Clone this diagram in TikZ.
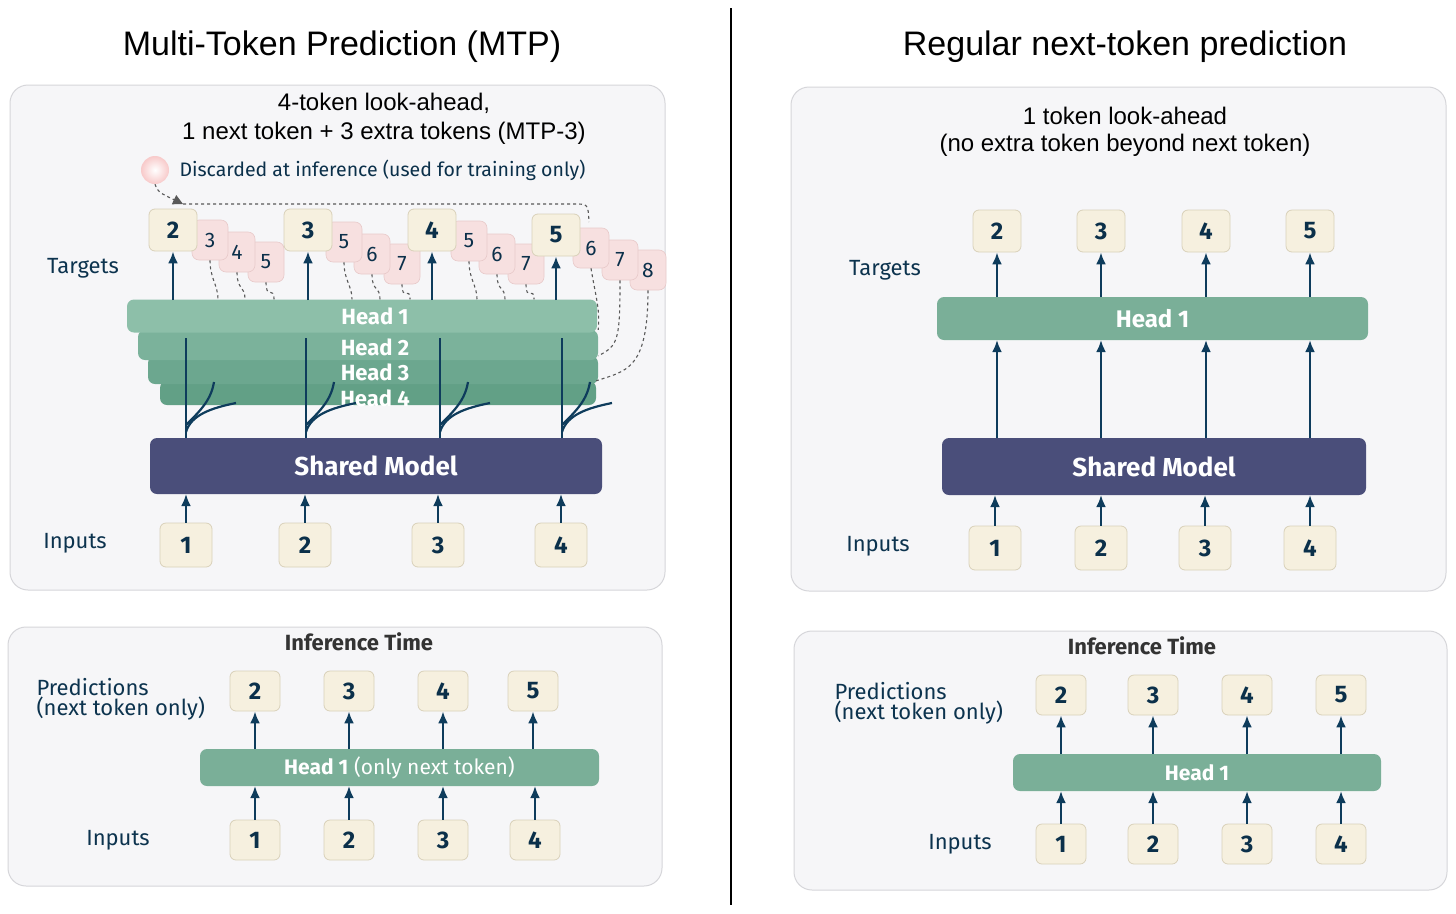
\documentclass[tikz,border=0pt]{standalone}
\usepackage{fontspec}
\setmainfont{Fira Sans}
\newfontfamily\titlefont{Liberation Sans}
\usetikzlibrary{arrows.meta}
\definecolor{arr}{HTML}{0E3C5C}
\definecolor{panel}{HTML}{F6F6F8}
\definecolor{panelb}{HTML}{D6D6DA}
\definecolor{cream}{HTML}{F6F0DF}
\definecolor{creamb}{HTML}{D9D1BA}
\definecolor{pinkf}{HTML}{F7E0E0}
\definecolor{pinkb}{HTML}{E8CACA}
\definecolor{hA}{HTML}{8DBFA9}
\definecolor{hB}{HTML}{7BB29B}
\definecolor{hC}{HTML}{6CA78F}
\definecolor{hD}{HTML}{62A086}
\definecolor{hone}{HTML}{7AAF98}
\definecolor{model}{HTML}{4A4E7A}
\begin{document}
\begin{tikzpicture}[x=1pt,y=-1pt,
  panelst/.style={draw=panelb,fill=panel,rounded corners=18pt,line width=1pt},
  tok/.style={draw=creamb,fill=cream,rounded corners=6pt,minimum width=48pt,minimum height=42pt,font=\fontsize{24}{24}\selectfont\bfseries,text=arr!80!black,line width=0.8pt},
  ptok/.style={draw=pinkb,fill=pinkf,rounded corners=7pt,minimum width=36pt,minimum height=40pt,font=\fontsize{21}{21}\selectfont,text=arr!80!black,line width=0.6pt},
  lab/.style={font=\fontsize{22}{22}\selectfont,text=arr!85!black},
  big/.style={font=\titlefont\fontsize{34}{40}\selectfont},
  sub/.style={font=\titlefont\fontsize{24}{28}\selectfont},
  bar/.style={rounded corners=7pt,inner sep=0pt},
  ar/.style={-{Latex[length=12pt,width=10pt]},arr,line width=2.6pt},
  dsh/.style={dashed,gray!70!black,line width=1.1pt}]
\useasboundingbox (0,0) rectangle (1456,913);
\fill[white] (0,0) rectangle (1456,913);
\node[big] (t1) at (342,47) {Multi-Token Prediction (MTP)};
\node[big] (t2) at (1125,47) {Regular next-token prediction};
\draw[line width=1.3pt] (731,8) -- (731,905);
% ---------- left top panel
\node[panelst,minimum width=655pt,minimum height=505pt] (P1) at (337.5,337.5) {};
\node[sub] (l1) at (384,103) {4-token look-ahead,};
\node[sub] (l2) at (384,133) {1 next token + 3 extra tokens (MTP-3)};
\shade[inner color=white,outer color=pinkf!90!red] (155,170) circle (14);
\node[circle,minimum size=28pt,inner sep=0pt] (dc) at (155,170) {};
\node[anchor=west,font=\fontsize{19.5}{20}\selectfont,text=arr!80!black] (dl) at (176,170) {Discarded at inference (used for training only)};
\coordinate (da) at (183,204);
\draw[dsh,-{Triangle[length=10pt,width=10pt]}] (dc.south) .. controls (158,192) .. (da);
\draw[dsh] (da) -- (575,204) .. controls (588,204) .. (589,222);
\node[lab] (tg1) at (83,268) {Targets};
\node[lab] (in1) at (75,543) {Inputs};
% pink tokens (drawn back to front)
\foreach \n/\x/\y/\t in {c/648/270/8,b/620/260/7,a/591/248/6, f/526/264/7,e/497/254/6,d/469/241/5, i/402/264/7,h/372/254/6,g/344/242/5, l/266/262/5,k/237/252/4,j/210/240/3}
  \node[ptok] (p\n) at (\x,\y) {\t};
% target tokens
\node[tok] (T1) at (173,230) {2};
\node[tok] (T2) at (308,230) {3};
\node[tok] (T3) at (432,230) {4};
\node[tok] (T4) at (556,235) {5};
% heads
\node[bar,fill=hD,minimum width=436pt,minimum height=24pt] (H4) at (378,393) {};
\node[bar,fill=hC,minimum width=450pt,minimum height=28pt] (H3) at (373,370) {};
\node[bar,fill=hB,minimum width=460pt,minimum height=30pt] (H2) at (368,345) {};
\node[bar,fill=hA,minimum width=470pt,minimum height=33pt] (H1) at (362,316) {};
\foreach \h/\y in {1/316,2/347,3/372,4/398}
  \node[font=\fontsize{22}{22}\selectfont\bfseries,text=white] (hl\h) at (375,\y) {Head \h};
% dashed curves pink -> heads
\foreach \n/\dx in {j/70,k/105,l/140,g/310,h/340,i/375,d/440,e/470,f/500}
  \draw[dsh] (p\n.south) .. controls ++(0,18) and ++(0,-14) .. ([xshift=8pt]p\n.south |- H1.north);
\draw[dsh] (pa.south) .. controls ++(5,30) and ++(2,-20) .. (H2.north east);
\draw[dsh] (pb.south) .. controls ++(0,60) and ++(20,-10) .. (H3.north east);
\draw[dsh] (pc.south) .. controls ++(0,80) and ++(30,-10) .. (H4.north east);
\draw[dsh] (pc.south) ++(-10,0) coordinate (pc2);
% shared model
\node[bar,fill=model,minimum width=452pt,minimum height=56pt,font=\fontsize{26}{26}\selectfont\bfseries,text=white] (SM1) at (376,466) {Shared Model};
% arrows heads->targets
\foreach \i/\x in {1/173,2/308,3/432,4/556}
  \draw[ar] (\x,300) -- (T\i.south);
% stems and branches
\foreach \x/\w in {186/1,306/1,440/1,562/0}{
  \draw[arr,line width=2.6pt] (\x,438) -- (\x,338);
  \draw[arr,line width=2.2pt] (\x,432) .. controls (\x+5,415) and (\x+25,408) .. (\x+50,403);
  \draw[arr,line width=2.2pt] (\x,425) .. controls (\x+15,410) and (\x+25,400) .. (\x+28,382);
}
% inputs
\foreach \i/\x/\v in {1/186/1,2/305/2,3/438/3,4/561/4}{
  \node[tok,minimum width=52pt,minimum height=44pt] (I\i) at (\x,545) {\v};
  \draw[ar] (I\i.north) -- (\x,494);
}
% ---------- left bottom panel
\node[panelst,minimum width=654pt,minimum height=259pt] (P2) at (335,756.5) {};
\node[font=\fontsize{22}{22}\selectfont\bfseries,text=black!80] (it1) at (359,642) {Inference Time};
\node[lab,anchor=west,align=left] (pr1) at (33,699) {Predictions\\[-2pt](next token only)};
\node[lab] (in2) at (118,840) {Inputs};
\node[bar,fill=hone,minimum width=399pt,minimum height=37pt,text=white,font=\fontsize{21}{21}\selectfont] (HB1) at (399.5,767.5) {\textbf{Head 1} (only next token)};
\foreach \i/\x/\v in {1/255/2,2/349/3,3/443/4,4/533/5}{
  \node[tok,minimum width=50pt,minimum height=40pt] (Q\i) at (\x,691) {\v};
  \draw[ar] (\x,749) -- (Q\i.south);
}
\foreach \i/\x/\v in {1/255/1,2/349/2,3/443/3,4/535/4}{
  \node[tok,minimum width=50pt,minimum height=40pt] (J\i) at (\x,840) {\v};
  \draw[ar] (J\i.north) -- (\x,786);
}
% ---------- right top panel
\node[panelst,minimum width=655pt,minimum height=504pt] (P3) at (1118.5,339) {};
\node[sub] (r1) at (1125,116) {1 token look-ahead};
\node[sub] (r2) at (1125,145) {(no extra token beyond next token)};
\node[lab] (tg2) at (885,270) {Targets};
\node[lab] (in3) at (878,546) {Inputs};
\node[bar,fill=hone,minimum width=431pt,minimum height=43pt,font=\fontsize{24}{24}\selectfont\bfseries,text=white] (HR1) at (1152.5,318.5) {Head 1};
\node[bar,fill=model,minimum width=424pt,minimum height=57pt,font=\fontsize{26}{26}\selectfont\bfseries,text=white] (SM2) at (1154,466.5) {Shared Model};
\foreach \i/\x/\v in {1/997/2,2/1101/3,3/1206/4,4/1310/5}{
  \node[tok] (U\i) at (\x,231) {\v};
  \draw[ar] (\x,297) -- (U\i.south);
  \draw[ar] (\x,438) -- (\x,340);
}
\foreach \i/\x/\v in {1/995/1,2/1101/2,3/1205/3,4/1310/4}{
  \node[tok,minimum width=52pt,minimum height=44pt] (V\i) at (\x,548) {\v};
  \draw[ar] (V\i.north) -- (\x,495);
}
% ---------- right bottom panel
\node[panelst,minimum width=653pt,minimum height=259pt] (P4) at (1120.5,760.5) {};
\node[font=\fontsize{22}{22}\selectfont\bfseries,text=black!80] (it2) at (1142,646) {Inference Time};
\node[lab,anchor=west,align=left] (pr2) at (831,703) {Predictions\\[-2pt](next token only)};
\node[lab] (in4) at (960,844) {Inputs};
\node[bar,fill=hone,minimum width=368pt,minimum height=37pt,text=white,font=\fontsize{21}{21}\selectfont\bfseries] (HB2) at (1197,772.5) {Head 1};
\foreach \i/\x/\v in {1/1061/2,2/1153/3,3/1247/4,4/1341/5}{
  \node[tok,minimum width=50pt,minimum height=40pt] (W\i) at (\x,695) {\v};
  \draw[ar] (\x,754) -- (W\i.south);
}
\foreach \i/\x/\v in {1/1061/1,2/1153/2,3/1247/3,4/1341/4}{
  \node[tok,minimum width=50pt,minimum height=40pt] (X\i) at (\x,844) {\v};
  \draw[ar] (X\i.north) -- (\x,791);
}
\end{tikzpicture}
\end{document}
